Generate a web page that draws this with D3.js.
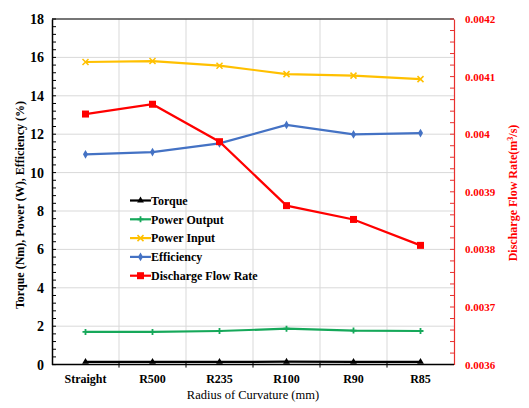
<!DOCTYPE html>
<html>
<head>
<meta charset="utf-8">
<script src="https://cdn.jsdelivr.net/npm/d3@7"></script>
<style>
  html, body { margin: 0; padding: 0; background: #fff; }
  svg { display: block; }
  svg text { font-family: "Liberation Serif", "Times New Roman", "DejaVu Serif", serif !important; }
</style>
</head>
<body>
<svg id="chart" width="529" height="408"></svg>
<script>
// Turbine performance versus radius of curvature
const categories = ["Straight", "R500", "R235", "R100", "R90", "R85"];
const torque = [0.14, 0.14, 0.14, 0.15, 0.14, 0.14];
const powerOutput = [1.70, 1.70, 1.75, 1.87, 1.77, 1.75];
const powerInput = [15.76, 15.81, 15.57, 15.13, 15.05, 14.87];
const efficiency = [10.95, 11.07, 11.52, 12.48, 11.99, 12.06];
const flowRate = [0.004035, 0.004052, 0.003987, 0.003876, 0.003852, 0.003807];

const leftTicks = [0, 2, 4, 6, 8, 10, 12, 14, 16, 18];
const rightTicks = [0.0036, 0.0037, 0.0038, 0.0039, 0.004, 0.0041, 0.0042];
const rightTickLabels = ["0.0036", "0.0037", "0.0038", "0.0039", "0.004", "0.0041", "0.0042"];

const serif = '"Liberation Serif", "Times New Roman", serif';
const svg = d3.select("#chart");
const plotLeft = 52, plotRight = 454, plotTop = 19, plotBottom = 364.6;

const x = d3.scaleBand().domain(categories).range([plotLeft, plotRight]).paddingInner(0).paddingOuter(0);
const xc = d => x(d) + x.bandwidth() / 2;
const yL = d3.scaleLinear().domain([0, 18]).range([plotBottom, plotTop]);
const yR = d3.scaleLinear().domain([0.0036, 0.0042]).range([plotBottom, plotTop]);

const gridColor = "#d9d9d9";

// horizontal gridlines
svg.append("g").selectAll("line").data(leftTicks.slice(1)).join("line")
  .attr("x1", plotLeft).attr("x2", plotRight)
  .attr("y1", d => yL(d)).attr("y2", d => yL(d))
  .attr("stroke", gridColor).attr("stroke-width", 1);

// vertical gridlines at category boundaries
svg.append("g").selectAll("line").data(categories.slice(1)).join("line")
  .attr("x1", d => x(d)).attr("x2", d => x(d))
  .attr("y1", plotTop).attr("y2", plotBottom)
  .attr("stroke", gridColor).attr("stroke-width", 1);

// top border
svg.append("line").attr("x1", plotLeft).attr("x2", plotRight).attr("y1", plotTop).attr("y2", plotTop)
  .attr("stroke", "#000").attr("stroke-width", 1.2);

// left axis
const leftAxis = d3.axisLeft(yL).tickValues(leftTicks).tickSize(0).tickPadding(8);
const gL = svg.append("g").attr("transform", `translate(${plotLeft},0)`).call(leftAxis)
  .attr("font-family", serif);
gL.select(".domain").attr("stroke", "#000").attr("stroke-width", 1.5);
gL.selectAll("text").attr("font-size", 14).attr("font-weight", "bold").attr("fill", "#000")
  .style("font-family", serif);
// left minor ticks (inside)
svg.append("g").selectAll("line").data(d3.range(0, 18.001, 0.4)).join("line")
  .attr("x1", plotLeft).attr("x2", plotLeft + 4)
  .attr("y1", d => yL(d)).attr("y2", d => yL(d))
  .attr("stroke", "#000").attr("stroke-width", 1);

// right axis
const rightAxis = d3.axisRight(yR).tickValues(rightTicks)
  .tickFormat((d, i) => rightTickLabels[i]).tickSize(0).tickPadding(11);
const gR = svg.append("g").attr("transform", `translate(${plotRight},0)`).call(rightAxis)
  .attr("font-family", serif);
gR.select(".domain").attr("stroke", "#e8302e").attr("stroke-width", 1.2);
gR.selectAll("text").attr("font-size", 11).attr("font-weight", "bold").attr("fill", "#ff0000")
  .style("font-family", serif);
svg.append("g").selectAll("line").data(d3.range(0, 31).map(i => 0.0036 + i * 0.00002)).join("line")
  .attr("x1", plotRight - 4).attr("x2", plotRight)
  .attr("y1", d => yR(d)).attr("y2", d => yR(d))
  .attr("stroke", "#e8302e").attr("stroke-width", 1);

// bottom axis
const bottomAxis = d3.axisBottom(x).tickSize(0).tickPadding(10);
const gB = svg.append("g").attr("transform", `translate(0,${plotBottom})`).call(bottomAxis)
  .attr("font-family", serif);
gB.select(".domain").remove();
gB.selectAll("text").attr("font-size", 12).attr("font-weight", "bold").attr("fill", "#000")
  .style("font-family", serif);
svg.append("line").attr("x1", plotLeft).attr("x2", plotRight).attr("y1", plotBottom).attr("y2", plotBottom)
  .attr("stroke", "#000").attr("stroke-width", 1.5);
svg.append("g").selectAll("line").data(categories.slice(1)).join("line")
  .attr("x1", d => x(d)).attr("x2", d => x(d))
  .attr("y1", plotBottom - 2).attr("y2", plotBottom + 3)
  .attr("stroke", "#000").attr("stroke-width", 1);

// series
const series = [
  { name: "Torque", values: torque, scale: yL, color: "#000000", marker: "triangle" },
  { name: "Power Output", values: powerOutput, scale: yL, color: "#16a85a", marker: "plus" },
  { name: "Power Input", values: powerInput, scale: yL, color: "#ffc000", marker: "cross" },
  { name: "Efficiency", values: efficiency, scale: yL, color: "#4472c4", marker: "diamond" },
  { name: "Discharge Flow Rate", values: flowRate, scale: yR, color: "#ff0000", marker: "square" }
];

function drawMarker(g, type, color, cx, cy) {
  if (type === "square") {
    g.append("rect").attr("x", cx - 3.5).attr("y", cy - 3.5).attr("width", 7).attr("height", 7).attr("fill", color);
  } else if (type === "diamond") {
    g.append("path").attr("d", d3.symbol(d3.symbolDiamond, 22)()).attr("transform", `translate(${cx},${cy})`).attr("fill", color);
  } else if (type === "triangle") {
    g.append("path").attr("d", d3.symbol(d3.symbolTriangle, 20)()).attr("transform", `translate(${cx},${cy})`).attr("fill", color);
  } else if (type === "plus") {
    g.append("path").attr("d", `M${cx - 3},${cy}H${cx + 3}M${cx},${cy - 3}V${cy + 3}`).attr("stroke", color).attr("stroke-width", 1.8);
  } else if (type === "cross") {
    g.append("path").attr("d", `M${cx - 3},${cy - 3}L${cx + 3},${cy + 3}M${cx - 3},${cy + 3}L${cx + 3},${cy - 3}`).attr("stroke", color).attr("stroke-width", 1.5);
  }
}

const sg = svg.append("g");
series.forEach(s => {
  const line = d3.line().x((d, i) => xc(categories[i])).y(d => s.scale(d));
  sg.append("path").datum(s.values).attr("d", line)
    .attr("fill", "none").attr("stroke", s.color).attr("stroke-width", 2.2);
  s.values.forEach((v, i) => drawMarker(sg, s.marker, s.color, xc(categories[i]), s.scale(v)));
});

// legend
const lg = svg.append("g");
series.forEach((s, i) => {
  const ly = 200.5 + i * 18.8;
  lg.append("line").attr("x1", 130).attr("x2", 151).attr("y1", ly).attr("y2", ly)
    .attr("stroke", s.color).attr("stroke-width", 2.2);
  drawMarker(lg, s.marker, s.color, 140.5, ly);
  lg.append("text").attr("x", 151).attr("y", ly + 4.2).text(s.name)
    .attr("font-size", 12).attr("font-weight", "bold").attr("fill", "#000")
    .style("font-family", serif);
});

// axis titles
svg.append("text").attr("transform", "translate(24,205) rotate(-90)").attr("text-anchor", "middle")
  .attr("font-size", 12).attr("font-weight", "bold").attr("fill", "#000")
  .style("font-family", serif)
  .text("Torque (Nm), Power (W), Efficiency (%)");

const rt = svg.append("text").attr("transform", "translate(517,193) rotate(-90)").attr("text-anchor", "middle")
  .attr("font-size", 12).attr("font-weight", "bold").attr("fill", "#ff0000")
  .style("font-family", serif);
rt.append("tspan").text("Discharge Flow Rate(m");
rt.append("tspan").text("3").attr("font-size", 8).attr("dy", -4);
rt.append("tspan").text("/s)").attr("dy", 4);

svg.append("text").attr("x", 253).attr("y", 399).attr("text-anchor", "middle")
  .attr("font-size", 12.5).attr("fill", "#000")
  .style("font-family", serif)
  .text("Radius of Curvature (mm)");
</script>
</body>
</html>
